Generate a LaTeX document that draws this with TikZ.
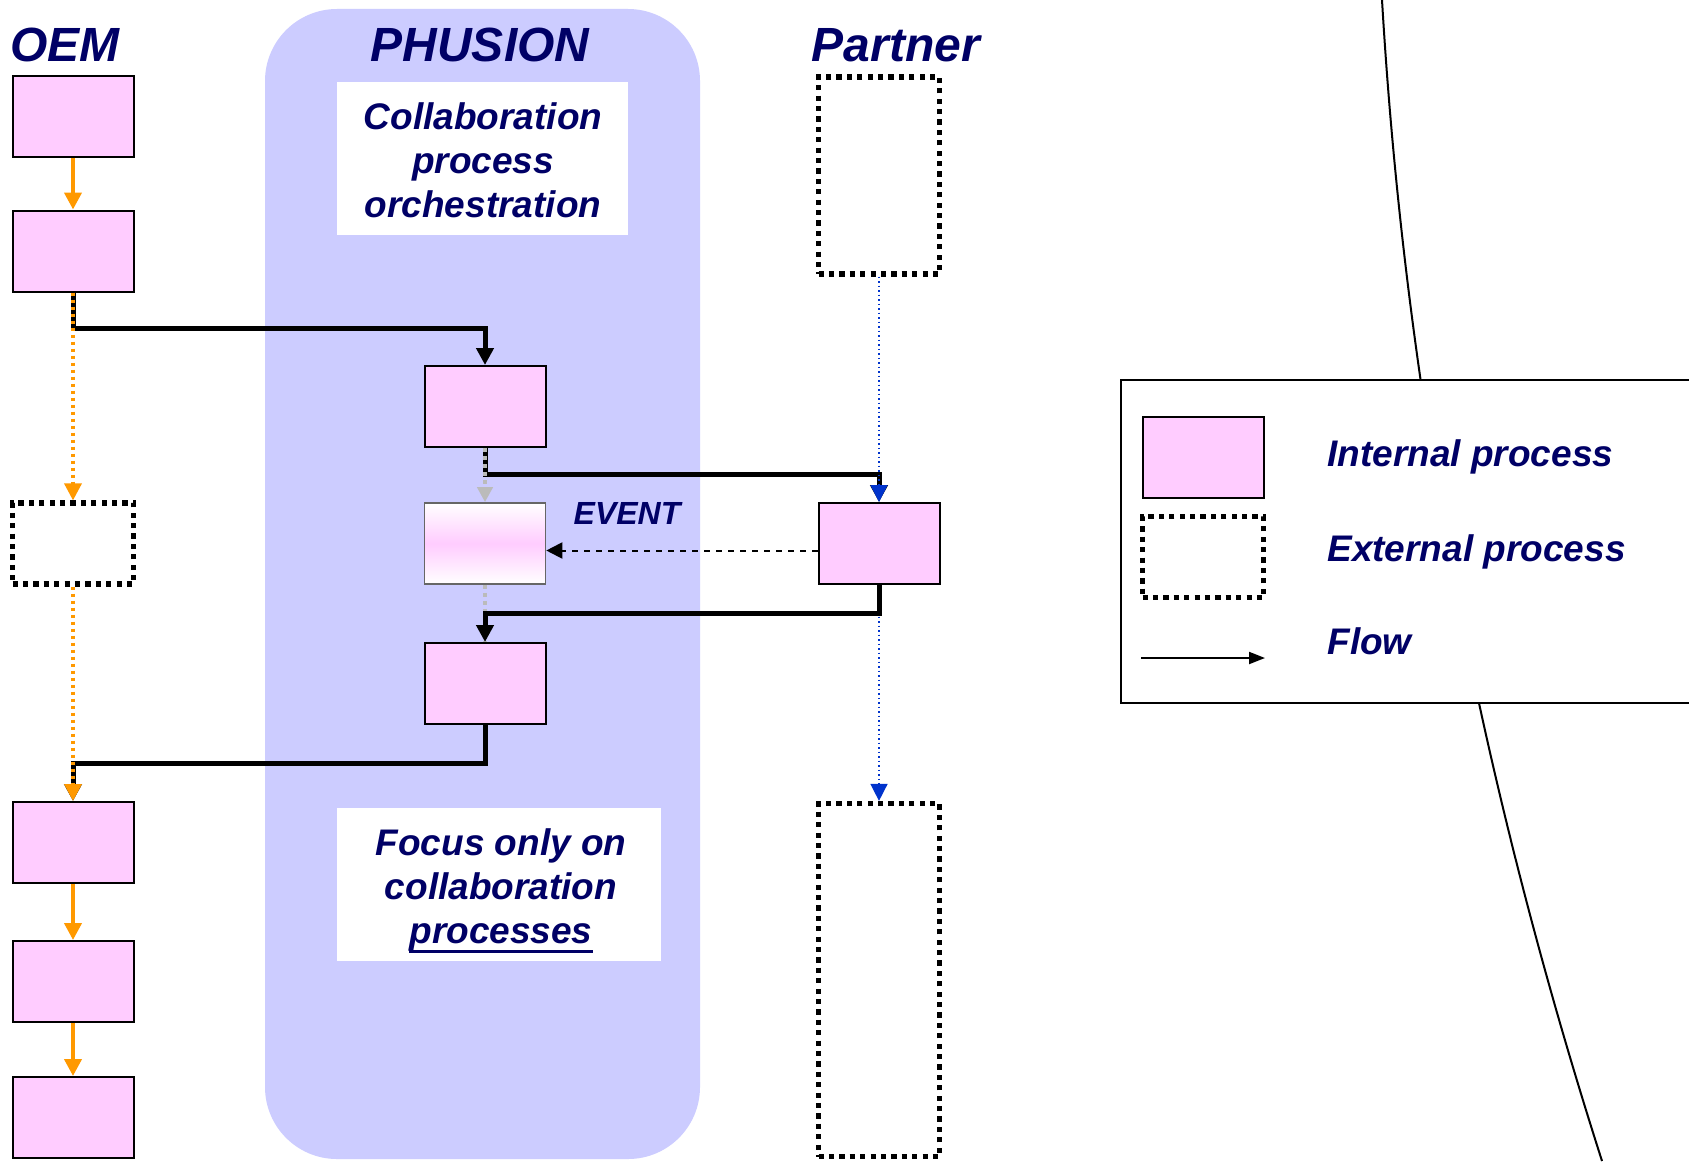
\documentclass[tikz,border=0pt]{standalone}
\usepackage{fontspec}
\setmainfont{Liberation Sans}
\usetikzlibrary{arrows.meta}
\definecolor{navy}{HTML}{000066}
\definecolor{procpink}{HTML}{FFCCFF}
\definecolor{lanefill}{HTML}{CCCCFF}
\definecolor{floworange}{HTML}{FF9900}
\definecolor{flowblue}{HTML}{0033CC}
\definecolor{evgray}{HTML}{BBBBBB}
\newcommand\ulword[1]{\setbox0\hbox{#1}\rlap{\rule[-5pt]{\wd0}{1.5pt}}\box0}
\begin{document}
\begin{tikzpicture}[x=0.5pt,y=-0.5pt,
  internal/.style={draw=black,line width=1pt,fill=procpink,minimum width=60.5pt,minimum height=40.5pt,inner sep=0pt},
  external/.style={draw=black,line width=2.6pt,dash pattern=on 2.6pt off 2.6pt,minimum width=60.5pt,inner sep=0pt},
  eventbox/.style={draw=black!60,line width=0.8pt,top color=white,bottom color=white,middle color=procpink,minimum width=60.5pt,minimum height=40.5pt,inner sep=0pt},
  lanetitle/.style={text=navy,font=\fontsize{24}{29}\selectfont\bfseries\itshape,anchor=base,inner sep=0pt},
  notebox/.style={fill=white,inner sep=0pt},
  note/.style={text=navy,align=center,font=\fontsize{18.5}{22}\selectfont\bfseries\itshape,inner sep=0pt},
  legendtext/.style={text=navy,font=\fontsize{18.5}{22}\selectfont\bfseries\itshape,anchor=base west,inner sep=0pt},
  msg/.style={line width=2.5pt,-{Triangle[width=8.5pt,length=8.5pt]}},
  localflow/.style={floworange,line width=2pt,-{Triangle[width=8.5pt,length=8.5pt]}},
  localdot/.style={floworange,line width=1.75pt,dash pattern=on 1.5pt off 2pt,-{Triangle[width=8.5pt,length=8.5pt]}},
  internaldot/.style={evgray,line width=2pt,dash pattern=on 2pt off 2pt,-{Triangle[width=7.5pt,length=7.5pt]}},
  partnerdot/.style={flowblue,line width=0.75pt,dash pattern=on 0.75pt off 1.5pt,-{Triangle[width=8.5pt,length=8.5pt]}},
  eventmsg/.style={line width=1pt,dash pattern=on 3pt off 3pt,-{Triangle[width=8pt,length=8pt]}}]
\useasboundingbox (0,0) rectangle (1689,1161);
\clip (0,0) rectangle (1689,1161);
\fill[white] (0,0) rectangle (1689,1161);

\fill[lanefill,rounded corners=36pt] (265,9) rectangle (700,1159);

\node[lanetitle] (oemtitle) at (65,62) {OEM};
\node[lanetitle] (phtitle) at (480,62) {PHUSION};
\node[lanetitle] (pttitle) at (896,62) {Partner};

\node[notebox,minimum width=145.5pt,minimum height=76.5pt] (orchbox) at (482.5,158.5) {};
\node[note] (orch) at (483,160) {Collaboration\\process\\orchestration};
\node[notebox,minimum width=162pt,minimum height=76.5pt] (focusbox) at (499,884.5) {};
\node[note] (focus) at (501,891) {Focus only on\\collaboration\\\ulword{processes}};

\node[internal] (oem1) at (73,116.5) {};
\node[internal] (oem2) at (73,251) {};
\node[external,minimum height=40.5pt] (oemext) at (73,543.5) {};
\node[internal] (oem3) at (73,842.5) {};
\node[internal] (oem4) at (73,981.5) {};
\node[internal] (oem5) at (73,1117.5) {};

\node[internal] (ph1) at (485,406.5) {};
\node[eventbox] (phev) at (485,543.5) {};
\node[internal] (ph2) at (485,683.5) {};
\node[text=navy,font=\fontsize{16}{19}\selectfont\bfseries\itshape,anchor=base,inner sep=0pt] (evlabel) at (627,524) {EVENT};

\node[external,minimum height=98.5pt] (ptext1) at (879,175.5) {};
\node[internal] (ptbox) at (879,543.5) {};
\node[external,minimum height=176.5pt] (ptext2) at (879,980) {};

\draw[internaldot,-] (phev.south) -- (ph2.north);
\draw[partnerdot] (ptbox.south) -- (ptext2.north);

\draw[msg] (oem2.south) -- ++(0,36) -| (ph1.north);
\draw[msg] (ph1.south) -- ++(0,26) -| (ptbox.north);
\draw[msg] (ptbox.south) -- ++(0,28) -| (ph2.north);
\draw[msg] (ph2.south) -- ++(0,38) -| (oem3.north);

\draw[localflow] (oem1.south) -- (oem2.north);
\draw[localdot] (oem2.south) -- (oemext.north);
\draw[localdot] (oemext.south) -- (oem3.north);
\draw[localflow] (oem3.south) -- (oem4.north);
\draw[localflow] (oem4.south) -- (oem5.north);
\draw[internaldot] (ph1.south) -- (phev.north);
\draw[partnerdot] (ptext1.south) -- (ptbox.north);
\draw[eventmsg] ([yshift=-3.5pt]ptbox.west) -- ([yshift=-3.5pt]phev.east);

\draw[line width=1pt] (1382,0) .. controls (1404.7,386.7) and (1478,773.7) .. (1602,1161);
\draw[line width=1pt,fill=white] (1121,380) rectangle (1700,703);
\node[internal] (leginternal) at (1203,457) {};
\node[external,minimum height=40.5pt] (legexternal) at (1203,557) {};
\coordinate (legflowa) at (1141,658);
\coordinate (legflowb) at (1265,658);
\draw[line width=1pt,-{Triangle[width=6pt,length=8pt]}] (legflowa) -- (legflowb);
\node[legendtext] (legint) at (1327,466) {Internal process};
\node[legendtext] (legext) at (1327,561) {External process};
\node[legendtext] (legflow) at (1327,654) {Flow};
\end{tikzpicture}
\end{document}
